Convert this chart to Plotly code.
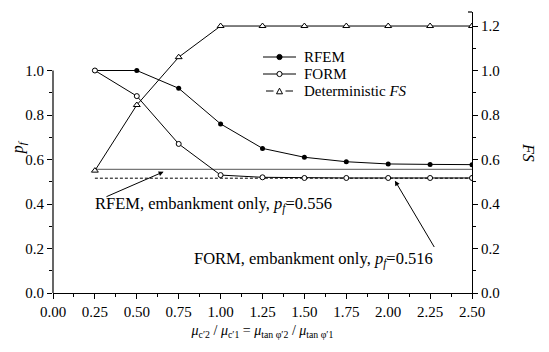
import plotly.graph_objects as go

x_vals = [0.25, 0.50, 0.75, 1.00, 1.25, 1.50, 1.75, 2.00, 2.25, 2.50]
rfem_pf = [1.0, 1.0, 0.92, 0.76, 0.65, 0.61, 0.59, 0.58, 0.578, 0.577]
form_pf = [1.0, 0.885, 0.67, 0.53, 0.52, 0.517, 0.517, 0.517, 0.517, 0.517]
det_fs = [0.55, 0.845, 1.06, 1.2, 1.2, 1.2, 1.2, 1.2, 1.2, 1.2]
rfem_emb = 0.556
form_emb = 0.516
x_ticks = [0.0, 0.25, 0.5, 0.75, 1.0, 1.25, 1.5, 1.75, 2.0, 2.25, 2.5]
x_ticklabels = ["0.00", "0.25", "0.50", "0.75", "1.00", "1.25", "1.50", "1.75", "2.00", "2.25", "2.50"]
y_ticks = [0.0, 0.2, 0.4, 0.6, 0.8, 1.0]
y2_ticks = [0.0, 0.2, 0.4, 0.6, 0.8, 1.0, 1.2]
legend_names = ["RFEM", "FORM", "Deterministic <i>FS</i>"]

FONT = "Liberation Serif, Times New Roman, serif"
YMAX = 1.263
W, H = 549, 352
ML, MR, MT, MB = 53, 77, 12, 59
PW, PH = W - ML - MR, H - MT - MB

fig = go.Figure()

# embankment-only reference lines
fig.add_trace(go.Scatter(x=[x_vals[0], x_vals[-1]], y=[rfem_emb, rfem_emb], mode="lines",
                         line=dict(color="#555555", width=1), showlegend=False, hoverinfo="skip"))
fig.add_trace(go.Scatter(x=[x_vals[0], x_vals[-1]], y=[form_emb, form_emb], mode="lines",
                         line=dict(color="black", width=1, dash="3px,2px"), showlegend=False, hoverinfo="skip"))

fig.add_trace(go.Scatter(x=x_vals, y=rfem_pf, mode="lines+markers", name=legend_names[0],
                         line=dict(color="black", width=1),
                         marker=dict(symbol="circle", size=5, color="black"), showlegend=False))
fig.add_trace(go.Scatter(x=x_vals, y=form_pf, mode="lines+markers", name=legend_names[1],
                         line=dict(color="black", width=1),
                         marker=dict(symbol="circle", size=5, color="white", line=dict(width=1, color="black")),
                         showlegend=False))
fig.add_trace(go.Scatter(x=x_vals, y=det_fs, mode="lines+markers", name=legend_names[2],
                         yaxis="y2",
                         line=dict(color="black", width=1),
                         marker=dict(symbol="triangle-up", size=6, color="white", line=dict(width=1, color="black")),
                         showlegend=False))

axis_font = dict(family=FONT, size=15, color="black")

fig.update_layout(
    width=W, height=H,
    margin=dict(l=ML, r=MR, t=MT, b=MB),
    paper_bgcolor="white", plot_bgcolor="white",
    font=dict(family=FONT, size=15, color="black"),
    xaxis=dict(range=[0, 2.5], tickvals=x_ticks, ticktext=x_ticklabels,
               showline=True, linecolor="black", linewidth=1.2,
               ticks="outside", ticklen=5, tickcolor="black", tickwidth=1.2,
               minor=dict(tickvals=[0.125 + 0.25 * i for i in range(10)], ticklen=3,
                          tickcolor="black", ticks="outside"),
               showgrid=False, zeroline=False, tickfont=axis_font,
               title=dict(text="<i>μ</i><sub>c′2</sub> / <i>μ</i><sub>c′1</sub> = <i>μ</i><sub>tan φ′2</sub> / <i>μ</i><sub>tan φ′1</sub>",
                          font=dict(family=FONT, size=14, color="black"), standoff=6)),
    yaxis=dict(range=[0, YMAX], tickvals=y_ticks, ticktext=["%.1f" % v for v in y_ticks],
               showline=False, ticks="outside", ticklen=5, tickcolor="black", tickwidth=1.2,
               minor=dict(tickvals=[0.1, 0.3, 0.5, 0.7, 0.9], ticklen=3,
                          tickcolor="black", ticks="outside"),
               showgrid=False, zeroline=False, tickfont=axis_font),
    yaxis2=dict(range=[0, YMAX], overlaying="y", side="right", tickvals=y2_ticks,
                ticktext=["%.1f" % v for v in y2_ticks],
                showline=True, linecolor="black", linewidth=1.2,
                ticks="outside", ticklen=5, tickcolor="black", tickwidth=1.2,
                minor=dict(tickvals=[0.1, 0.3, 0.5, 0.7, 0.9, 1.1], ticklen=3,
                           tickcolor="black", ticks="outside"),
                showgrid=False, zeroline=False, tickfont=axis_font),
    showlegend=False,
)

# left axis line only up to 1.0
fig.add_shape(type="line", xref="paper", yref="y", x0=0, x1=0, y0=0, y1=1.0,
              line=dict(color="black", width=1.2))
# small end tick at top of right axis
fig.add_shape(type="line", xref="paper", yref="paper", x0=1, x1=1 - 4.0 / PW, y0=1, y1=1,
              line=dict(color="black", width=1.2))

# manual legend (compact row spacing like the reference)
def px_x(p):
    return (p - ML) / PW

def px_y(p):
    return (H - MB - p) / PH

rows = [57, 74, 91]
lx0, lx1, lxm, ltx = px_x(263), px_x(296), px_x(279.5), px_x(302)
rx, ry = 2.6 / PW, 2.6 / PH
for i, (name, row) in enumerate(zip(legend_names, rows)):
    yy = px_y(row)
    if i == 2:
        fig.add_shape(type="line", xref="paper", yref="paper", x0=lx0 + 3 / PW, x1=lxm - 6 / PW, y0=yy, y1=yy,
                      line=dict(color="black", width=1))
        fig.add_shape(type="line", xref="paper", yref="paper", x0=lxm + 6 / PW, x1=lx1 - 3 / PW, y0=yy, y1=yy,
                      line=dict(color="black", width=1))
        tx = 3.0 / PW
        ty = 2.8 / PH
        path = "M %f,%f L %f,%f L %f,%f Z" % (lxm - tx, yy - ty, lxm + tx, yy - ty, lxm, yy + ty)
        fig.add_shape(type="path", xref="paper", yref="paper", path=path,
                      line=dict(color="black", width=1), fillcolor="white")
    else:
        fig.add_shape(type="line", xref="paper", yref="paper", x0=lx0, x1=lx1, y0=yy, y1=yy,
                      line=dict(color="black", width=1))
        fig.add_shape(type="circle", xref="paper", yref="paper", x0=lxm - rx, x1=lxm + rx,
                      y0=yy - ry, y1=yy + ry, line=dict(color="black", width=1),
                      fillcolor="black" if i == 0 else "white")
    fig.add_annotation(xref="paper", yref="paper", x=ltx, y=yy, xanchor="left", yanchor="middle",
                       text=name, showarrow=False, font=dict(family=FONT, size=15, color="black"))

fig.add_annotation(xref="paper", yref="paper", x=-0.11, y=0.52, text="<i>p<sub>f</sub></i>",
                   showarrow=False, textangle=-90, font=dict(family=FONT, size=16, color="black"))
fig.add_annotation(xref="paper", yref="paper", x=1.16, y=0.5, text="<i>FS</i>",
                   showarrow=False, textangle=90, font=dict(family=FONT, size=16, color="black"))

fig.add_annotation(x=0.66, y=0.545, ax=0.31, ay=0.43, xref="x", yref="y", axref="x", ayref="y",
                   text="", showarrow=True, arrowhead=2, arrowsize=1, arrowwidth=1, arrowcolor="black")
fig.add_annotation(x=0.24, y=0.40, xref="x", yref="y", xanchor="left",
                   text="RFEM, embankment only, <i>p<sub>f</sub></i>=0.556",
                   showarrow=False, font=dict(family=FONT, size=16.5, color="black"))
fig.add_annotation(x=2.04, y=0.505, ax=2.28, ay=0.2, xref="x", yref="y", axref="x", ayref="y",
                   text="", showarrow=True, arrowhead=2, arrowsize=1, arrowwidth=1, arrowcolor="black")
fig.add_annotation(x=0.83, y=0.15, xref="x", yref="y", xanchor="left",
                   text="FORM, embankment only, <i>p<sub>f</sub></i>=0.516",
                   showarrow=False, font=dict(family=FONT, size=16.5, color="black"))

fig.write_html("out.html")
